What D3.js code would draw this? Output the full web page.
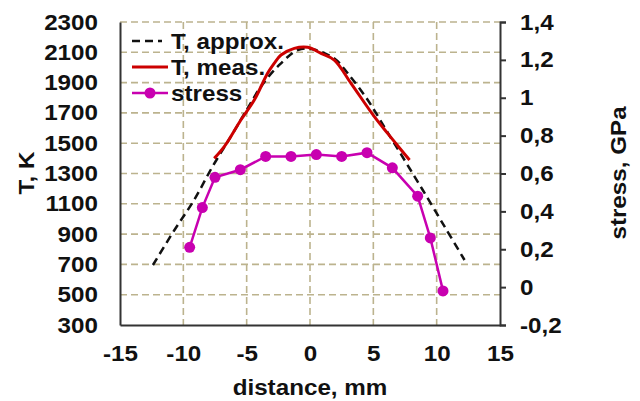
<!DOCTYPE html>
<html>
<head>
<meta charset="utf-8">
<script src="https://cdn.jsdelivr.net/npm/d3@7"></script>
<style>
  body { margin: 0; background: #fff; }
  text { font-family: "Liberation Sans", Arial, sans-serif; font-weight: bold; fill: #111; }
</style>
</head>
<body>
<div id="chart"></div>
<script>
// data
var approxX = [-12.4, -10.7, -9.15, -7.7, -6.25, -4.93, -3.88, -2.56, -0.97, 0.1, 1.9, 2.98, 4.56, 6.01, 7.46, 8.9, 10.63, 12.2];
var approxT = [696, 927, 1125, 1345, 1543, 1730, 1873, 2005, 2115, 2122, 2060, 1961, 1785, 1587, 1389, 1191, 949, 729];

var measX = [-7.56, -6.77, -5.46, -4.4, -3.35, -2.83, -2.29, -1.24, -0.18, 0.87, 1.92, 3.24, 5.08, 6.13, 7.2, 7.86];
var measT = [1400, 1477, 1653, 1785, 1961, 2027, 2082, 2126, 2133, 2093, 2049, 1895, 1675, 1565, 1455, 1389];

var stressX = [-9.5, -8.5, -7.5, -5.5, -3.5, -1.5, 0.5, 2.5, 4.5, 6.5, 8.5, 9.5, 10.5];
var stressV = [0.21, 0.42, 0.58, 0.62, 0.69, 0.69, 0.70, 0.69, 0.71, 0.63, 0.48, 0.26, -0.02];

var xTicks = [-15, -10, -5, 0, 5, 10, 15];
var tTicks = [300, 500, 700, 900, 1100, 1300, 1500, 1700, 1900, 2100, 2300];
var sTicks = [-0.2, 0, 0.2, 0.4, 0.6, 0.8, 1, 1.2, 1.4];

var legendNames = ["T, approx.", "T, meas.", "stress"];

var svg = d3.select("#chart").append("svg")
    .attr("width", 640)
    .attr("height", 401);

var pLeft = 120, pRight = 500, pTop = 22, pBottom = 325;

var x = d3.scaleLinear().domain([-15, 15]).range([pLeft, pRight]);
var yT = d3.scaleLinear().domain([300, 2300]).range([pBottom, pTop]);
var yS = d3.scaleLinear().domain([-0.2, 1.4]).range([pBottom, pTop]);

var loc = d3.formatLocale({decimal: ",", thousands: ".", grouping: [3], currency: ["", ""], minus: "-"});
var fmtS = function(d) { return loc.format("~g")(+d.toFixed(1)); };
var fmtI = loc.format("d");

var gridColor = "#bcb38e";

// horizontal grid (from T axis)
svg.append("g").selectAll("line")
    .data(tTicks.filter(function(d) { return d > 300; }))
    .enter().append("line")
    .attr("x1", pLeft).attr("x2", pRight)
    .attr("y1", function(d) { return yT(d); })
    .attr("y2", function(d) { return yT(d); })
    .attr("stroke", gridColor)
    .attr("stroke-width", 1.6)
    .attr("stroke-dasharray", "7,4");

// vertical grid
svg.append("g").selectAll("line")
    .data(xTicks.filter(function(d) { return d > -15 && d < 15; }))
    .enter().append("line")
    .attr("x1", function(d) { return x(d); })
    .attr("x2", function(d) { return x(d); })
    .attr("y1", pTop).attr("y2", pBottom)
    .attr("stroke", gridColor)
    .attr("stroke-width", 1.6)
    .attr("stroke-dasharray", "7,4");

// axes
var xAxis = svg.append("g")
    .attr("transform", "translate(0," + pBottom + ")")
    .call(d3.axisBottom(x).tickValues(xTicks).tickSize(0).tickPadding(20).tickFormat(fmtI));
xAxis.select(".domain").attr("stroke", "#333").attr("stroke-width", 2);
xAxis.selectAll("text").style("font-size", "22px");

var tAxis = svg.append("g")
    .attr("transform", "translate(" + pLeft + ",0)")
    .call(d3.axisLeft(yT).tickValues(tTicks).tickSize(0).tickPadding(22).tickFormat(fmtI));
tAxis.select(".domain").attr("stroke", "#333").attr("stroke-width", 2);
tAxis.selectAll("text").style("font-size", "22px");

var sAxis = svg.append("g")
    .attr("transform", "translate(" + pRight + ",0)")
    .call(d3.axisRight(yS).tickValues(sTicks).tickSize(6).tickPadding(14).tickFormat(fmtS));
sAxis.select(".domain").attr("stroke", "#333").attr("stroke-width", 2);
sAxis.selectAll("line").attr("stroke", "#333").attr("stroke-width", 2);
sAxis.selectAll("text").style("font-size", "22px");

// axis titles
svg.append("text")
    .attr("transform", "translate(34,173) rotate(-90)")
    .attr("text-anchor", "middle")
    .style("font-size", "22px")
    .text("T, K");

svg.append("text")
    .attr("transform", "translate(626,173) rotate(-90)")
    .attr("text-anchor", "middle")
    .style("font-size", "22px")
    .text("stress, GPa");

svg.append("text")
    .attr("x", x(0)).attr("y", 395)
    .attr("text-anchor", "middle")
    .style("font-size", "22px")
    .text("distance, mm");

// approx line
var approx = approxX.map(function(d, i) { return [d, approxT[i]]; });
svg.append("path")
    .datum(approx)
    .attr("fill", "none")
    .attr("stroke", "#111")
    .attr("stroke-width", 2.5)
    .attr("stroke-dasharray", "8,5")
    .attr("d", d3.line()
        .x(function(d) { return x(d[0]); })
        .y(function(d) { return yT(d[1]); })
        .curve(d3.curveCatmullRom));

// measured T
var meas = measX.map(function(d, i) { return [d, measT[i]]; });
svg.append("path")
    .datum(meas)
    .attr("fill", "none")
    .attr("stroke", "#cc0000")
    .attr("stroke-width", 3)
    .attr("d", d3.line()
        .x(function(d) { return x(d[0]); })
        .y(function(d) { return yT(d[1]); })
        .curve(d3.curveCatmullRom));

// stress
var stress = stressX.map(function(d, i) { return [d, stressV[i]]; });
var magenta = "#c800b0";
svg.append("path")
    .datum(stress)
    .attr("fill", "none")
    .attr("stroke", magenta)
    .attr("stroke-width", 2.5)
    .attr("d", d3.line()
        .x(function(d) { return x(d[0]); })
        .y(function(d) { return yS(d[1]); }));

svg.append("g").selectAll("circle")
    .data(stress)
    .enter().append("circle")
    .attr("cx", function(d) { return x(d[0]); })
    .attr("cy", function(d) { return yS(d[1]); })
    .attr("r", 5.5)
    .attr("fill", magenta);

// legend
var leg = svg.append("g");
var legY = [41, 67, 93];
leg.append("line").attr("x1", 132).attr("x2", 162).attr("y1", legY[0]).attr("y2", legY[0])
    .attr("stroke", "#111").attr("stroke-width", 2.5).attr("stroke-dasharray", "8,5");
leg.append("line").attr("x1", 132).attr("x2", 168).attr("y1", legY[1]).attr("y2", legY[1])
    .attr("stroke", "#cc0000").attr("stroke-width", 3);
leg.append("line").attr("x1", 132).attr("x2", 168).attr("y1", legY[2]).attr("y2", legY[2])
    .attr("stroke", magenta).attr("stroke-width", 2.5);
leg.append("circle").attr("cx", 150).attr("cy", legY[2]).attr("r", 5.5).attr("fill", magenta);

leg.selectAll("text")
    .data(legendNames)
    .enter().append("text")
    .attr("x", 171)
    .attr("y", function(d, i) { return legY[i] + 8; })
    .style("font-size", "22px")
    .text(function(d) { return d; });

// the source font runs a bit wider than Liberation Sans
svg.selectAll("text").each(function() {
    var w = this.getComputedTextLength();
    d3.select(this).attr("textLength", w * 1.1).attr("lengthAdjust", "spacingAndGlyphs");
});
</script>
</body>
</html>
